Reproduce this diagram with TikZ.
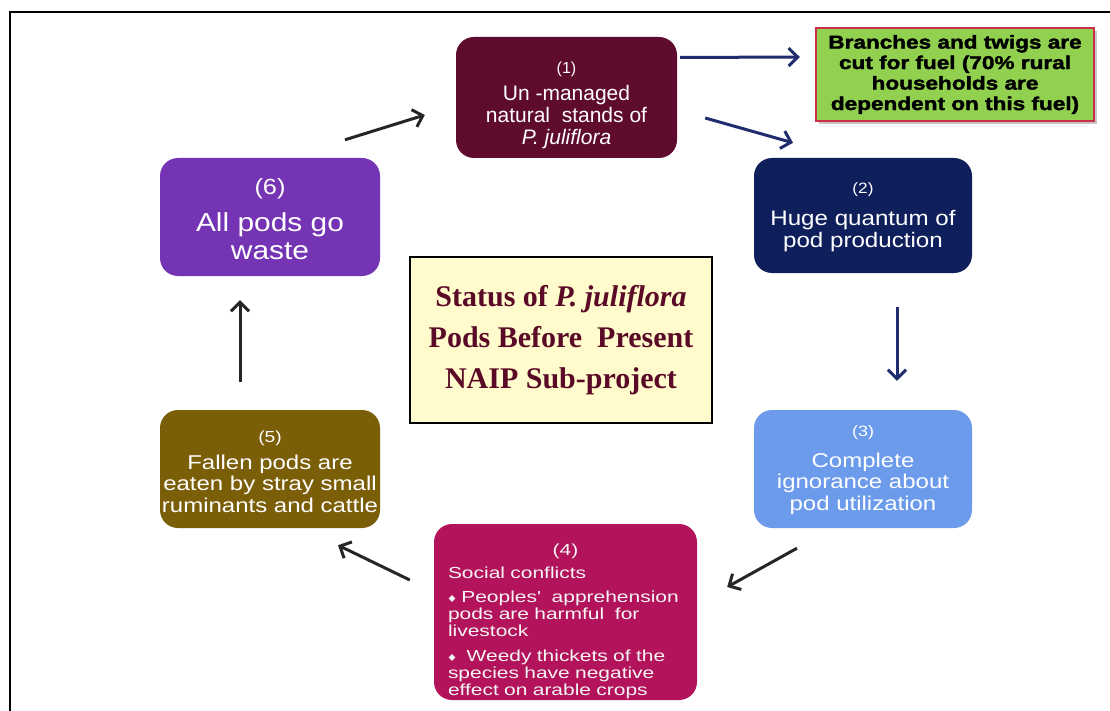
\documentclass[tikz,border=0pt]{standalone}
\usepackage{fontspec}
\setmainfont{Liberation Sans}
\newfontfamily\serifb{Liberation Serif}
\newfontfamily\wideA[FakeStretch=1.15]{Liberation Sans}
\newfontfamily\wideB[FakeStretch=1.2]{Liberation Sans}
\newfontfamily\wideC[FakeStretch=1.31]{Liberation Sans}
\newfontfamily\blackf[FakeStretch=1.22,FakeBold=2]{Liberation Sans Bold}
\usetikzlibrary{arrows.meta,calc,shadows}
\definecolor{cmaroon}{HTML}{5E0B2E}
\definecolor{cnavy}{HTML}{0F1F5C}
\definecolor{cblue}{HTML}{6C9BEB}
\definecolor{cmag}{HTML}{B3135A}
\definecolor{colive}{HTML}{7B5E08}
\definecolor{cpurple}{HTML}{7434B3}
\definecolor{cgreen}{HTML}{92D050}
\definecolor{cred}{HTML}{C8304A}
\definecolor{cyell}{HTML}{FFFBCC}
\definecolor{carrn}{HTML}{1F2D6E}
\definecolor{ctitle}{HTML}{5A0A26}
\begin{document}
\begin{tikzpicture}[x=1pt,y=-1pt,
  stage/.style={rounded corners=18pt, inner sep=0pt},
  stagetext/.style={text=white, align=center, inner sep=0pt},
  arrn/.style={line width=3pt, draw=carrn, -{Straight Barb[length=9pt,width=18pt]}},
  arrk/.style={line width=3pt, draw=black!85, -{Straight Barb[length=9pt,width=18pt]}}]
\useasboundingbox (0,0) rectangle (1110,711);
\fill[white] (0,0) rectangle (1110,711);
\draw[line width=2pt] (10,711) -- (10,12) -- (1110,12);

% boxes
\node[stage, fill=cmaroon, minimum width=221pt, minimum height=121pt] (b1) at (566.5,97.5) {};
\node[stage, fill=cnavy, minimum width=218pt, minimum height=115pt] (b2) at (863,215.5) {};
\node[stage, fill=cblue, minimum width=218pt, minimum height=118pt] (b3) at (863,469) {};
\node[stage, fill=cmag, minimum width=263pt, minimum height=176pt] (b4) at (565.5,612) {};
\node[stage, fill=colive, minimum width=220pt, minimum height=118pt] (b5) at (270,469) {};
\node[stage, fill=cpurple, minimum width=220pt, minimum height=118pt] (b6) at (270,217) {};

% box texts
\node[stagetext, font=\fontsize{21}{22}\selectfont] (t1) at ($(b1.center)+(0,7.5)$)
  {{\fontsize{16}{18}\selectfont (1)}\\[5pt]Un -managed\\natural\ \ stands of\\\textit{P. juliflora}};
\node[stagetext, font=\wideA\fontsize{21}{22}\selectfont] (t2) at ($(b2.center)+(0,1.5)$)
  {{\fontsize{15}{18}\selectfont (2)}\\[10pt]Huge quantum of\\pod production};
\node[stagetext, font=\wideB\fontsize{20}{21.5}\selectfont] (t3) at ($(b3.center)+(0,1)$)
  {{\fontsize{15}{18}\selectfont (3)}\\[9pt]Complete\\ignorance about\\pod utilization};
\node[stagetext, text=white!92!gray, text width=245pt, align=left,
  font=\wideC\fontsize{16}{16.8}\selectfont] (t4) at ($(b4.center)+(5,9.5)$)
  {\makebox[235pt][c]{(4)}\\[6pt]
   Social conflicts\\[7pt]
   {\fontsize{12}{12}\selectfont ♦} Peoples'\ \ apprehension\\
   pods are harmful\ \ for\\
   livestock\\[9pt]
   {\fontsize{12}{12}\selectfont ♦}\ \ Weedy thickets of the\\
   species have negative\\
   effect on arable crops};
\node[stagetext, font=\wideB\fontsize{20}{21.5}\selectfont] (t5) at ($(b5.center)+(0,3)$)
  {{\fontsize{16}{18}\selectfont (5)}\\[5pt]Fallen pods are\\eaten by stray small\\ruminants and cattle};
\node[stagetext, font=\wideA\fontsize{26}{28}\selectfont] (t6) at ($(b6.center)+(0,2)$)
  {{\fontsize{22}{24}\selectfont (6)}\\[9pt]All pods go\\waste};

\node[draw=cred, line width=2.5pt, fill=cgreen, minimum width=278pt, minimum height=93pt,
  align=center, inner sep=2pt, font=\blackf\fontsize{18.5}{20.5}\selectfont,
  drop shadow={opacity=0.45, shadow xshift=3pt, shadow yshift=-3pt}] (fuel) at (955,74.5)
  {Branches and twigs are\\cut for fuel (70\% rural\\households are\\dependent on this fuel)};

\node[draw=black, line width=2pt, fill=cyell, minimum width=302pt, minimum height=166pt,
  align=center, text=ctitle, font=\serifb\bfseries\fontsize{30}{41}\selectfont] (ctr) at (561,340)
  {Status of \textit{P. juliflora}\\Pods Before\ \ Present\\NAIP Sub-project};

\draw[arrn] ($(b1.east)+(3,-40)$) -- ($(fuel.west)+(-15,-17.5)$);
\draw[arrn] ($(b1.east)+(28,20.5)$) -- ($(b2.north)+(-70,-15)$);
\draw[arrn] ($(b2.south)+(34,34)$) -- ($(b3.north)+(34,-29)$);
\draw[arrk] ($(b3.south)+(-66,20)$) -- ($(b4.east)+(30,-25)$);
\draw[arrk] ($(b4.west)+(-24,-32)$) -- ($(b5.south)+(68,17)$);
\draw[arrk] ($(b5.north)+(-30,-28)$) -- ($(b6.south)+(-30,24)$);
\draw[arrk] ($(b6.north)+(75,-18)$) -- ($(b1.west)+(-31,17.5)$);
\end{tikzpicture}
\end{document}
